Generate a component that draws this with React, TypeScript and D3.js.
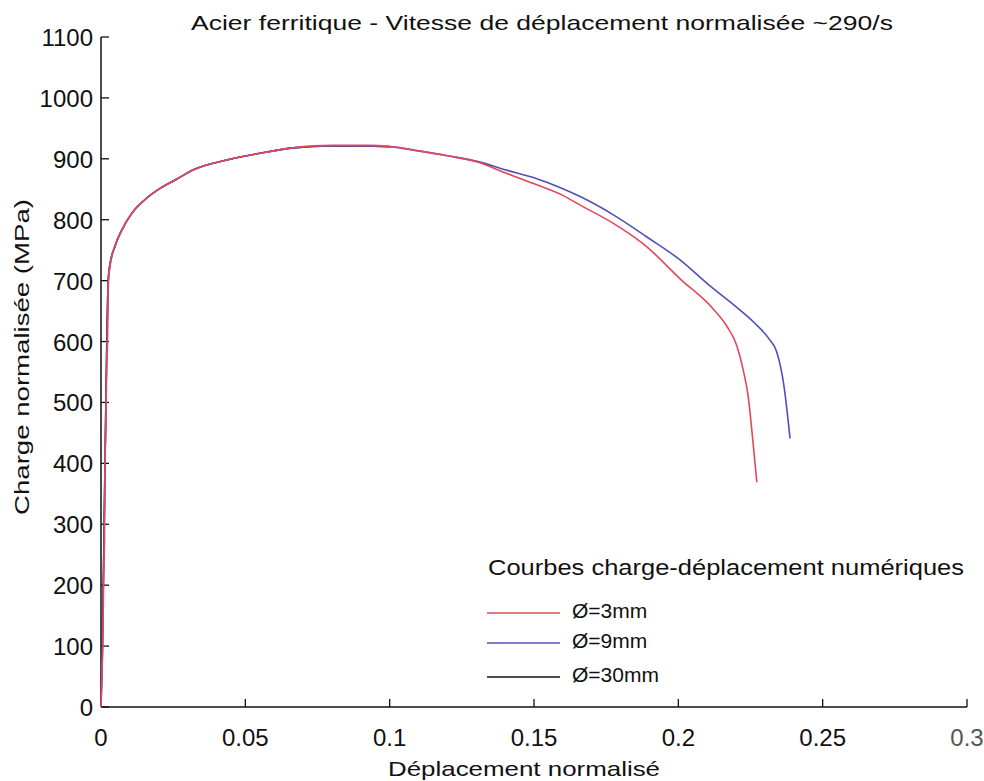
import React from "react";
import * as d3 from "d3";

const W = 984;
const H = 781;

const xTicks = [0, 0.05, 0.1, 0.15, 0.2, 0.25, 0.3];
const xTickLabels = ["0", "0.05", "0.1", "0.15", "0.2", "0.25", "0.3"];
const yTicks = [0, 100, 200, 300, 400, 500, 600, 700, 800, 900, 1000, 1100];
const yTickLabels = ["0", "100", "200", "300", "400", "500", "600", "700", "800", "900", "1000", "1100"];

// Ø=3mm (red)
const red_x = [0, 0.0004, 0.0006, 0.0009, 0.0012, 0.0014, 0.0016, 0.002, 0.0022, 0.0026, 0.003, 0.0048, 0.0072, 0.0106, 0.015, 0.021, 0.026, 0.032, 0.0435, 0.055, 0.0666, 0.08, 0.093, 0.1, 0.11, 0.12, 0.131, 0.14, 0.15, 0.16, 0.166, 0.1775, 0.189, 0.2006, 0.212, 0.2167, 0.2202, 0.2225, 0.2242, 0.226, 0.2272];
const red_y = [0, 70, 90, 215, 270, 425, 440, 575, 590, 700, 720, 756, 783, 810, 832, 853, 866, 882, 898, 909, 918, 922, 922, 920, 913, 905, 894, 877, 859, 840, 824, 794, 756, 703, 654, 626, 594, 553, 510, 428, 369];

// Ø=9mm (blue)
const blue_x = [0, 0.0005, 0.001, 0.0015, 0.002, 0.0025, 0.003, 0.0048, 0.0072, 0.0106, 0.015, 0.021, 0.026, 0.032, 0.0435, 0.055, 0.0666, 0.08, 0.09, 0.1, 0.11, 0.12, 0.131, 0.14, 0.15, 0.16, 0.166, 0.1775, 0.189, 0.2006, 0.2098, 0.2213, 0.2265, 0.2315, 0.234, 0.2365, 0.2387];
const blue_y = [0, 100, 260, 430, 590, 700, 725, 756, 783, 810, 832, 853, 866, 882, 898, 909, 918, 921, 921, 920, 913, 905, 895, 882, 869, 851, 838, 808, 772, 734, 696, 652, 630, 604, 584, 530, 441];

// Ø=30mm (black)
const black_x = [0, 0.0005, 0.001, 0.0015, 0.002, 0.0025, 0.003, 0.0048, 0.0072, 0.0106, 0.015, 0.021, 0.026, 0.032, 0.0435, 0.055, 0.0666, 0.08, 0.09, 0.1];
const black_y = [0, 110, 270, 440, 595, 700, 722, 756, 783, 810, 832, 853, 866, 882, 898, 909, 918, 921, 921, 920];

const seriesNames = ["Ø=3mm", "Ø=9mm", "Ø=30mm"];
const seriesColors = ["#e4475c", "#5050b8", "#111111"];

const FONT = "'Liberation Sans', Arial, Helvetica, sans-serif";

export default function App() {
  const x = d3.scaleLinear().domain([0, 0.3]).range([101, 967]);
  const y = d3.scaleLinear().domain([0, 1100]).range([707, 37]);
  const line = d3
    .line<[number, number]>()
    .x((d) => x(d[0]))
    .y((d) => y(d[1]))
    .curve(d3.curveMonotoneX);

  const mk = (xs: number[], ys: number[]) => xs.map((v, i) => [v, ys[i]] as [number, number]);
  const series = [mk(red_x, red_y), mk(blue_x, blue_y), mk(black_x, black_y)];
  const drawOrder = [2, 1, 0];

  const legendY = [613, 643, 677];

  return (
    <svg
      width={W}
      height={H}
      style={{ position: "absolute", left: 0, top: 0, background: "#fff" }}
      fontFamily={FONT}
    >
      <rect x={0} y={0} width={W} height={H} fill="#fff" />
      {/* title */}
      <text x={191} y={30} fontSize={21} fill="#111" textLength={702} lengthAdjust="spacingAndGlyphs">
        Acier ferritique - Vitesse de déplacement normalisée ~290/s
      </text>

      {/* axes */}
      <line x1={x(0)} x2={x(0.3)} y1={y(0)} y2={y(0)} stroke="#111" strokeWidth={1.5} />
      <line x1={x(0)} x2={x(0)} y1={y(0)} y2={y(1100)} stroke="#111" strokeWidth={1.5} />
      {xTicks.map((t, i) => (
        <g key={"xt" + i}>
          <line x1={x(t)} x2={x(t)} y1={y(0)} y2={y(0) - 8} stroke="#111" strokeWidth={1.3} />
          <text x={x(t)} y={746} fontSize={24} textAnchor="middle" fill={i === 6 ? "#555" : "#111"}>
            {xTickLabels[i]}
          </text>
        </g>
      ))}
      {yTicks.map((t, i) => (
        <g key={"yt" + i}>
          <line x1={x(0)} x2={x(0) + 8} y1={y(t)} y2={y(t)} stroke="#111" strokeWidth={1.3} />
          <text x={93} y={y(t) + 9} fontSize={24} textAnchor="end" fill="#111">
            {yTickLabels[i]}
          </text>
        </g>
      ))}

      {/* axis labels */}
      <text x={524} y={776} fontSize={21} textAnchor="middle" fill="#111" textLength={272} lengthAdjust="spacingAndGlyphs">
        Déplacement normalisé
      </text>
      <text
        transform={`translate(29, 357) rotate(-90)`}
        fontSize={21}
        textAnchor="middle"
        fill="#111"
        textLength={316}
        lengthAdjust="spacingAndGlyphs"
      >
        Charge normalisée (MPa)
      </text>

      {/* curves */}
      {drawOrder.map((k) => (
        <path key={"s" + k} d={line(series[k]) || ""} fill="none" stroke={seriesColors[k]} strokeWidth={1.6} strokeLinejoin="round" />
      ))}

      {/* legend */}
      <text x={488} y={575} fontSize={22} fill="#111" textLength={476} lengthAdjust="spacingAndGlyphs">
        Courbes charge-déplacement numériques
      </text>
      {seriesNames.map((n, i) => (
        <g key={"lg" + i}>
          <line x1={487} x2={560} y1={legendY[i]} y2={legendY[i]} stroke={seriesColors[i]} strokeWidth={1.6} />
          <text x={572} y={legendY[i] + 5} fontSize={21} fill="#111">
            {n}
          </text>
        </g>
      ))}
    </svg>
  );
}
